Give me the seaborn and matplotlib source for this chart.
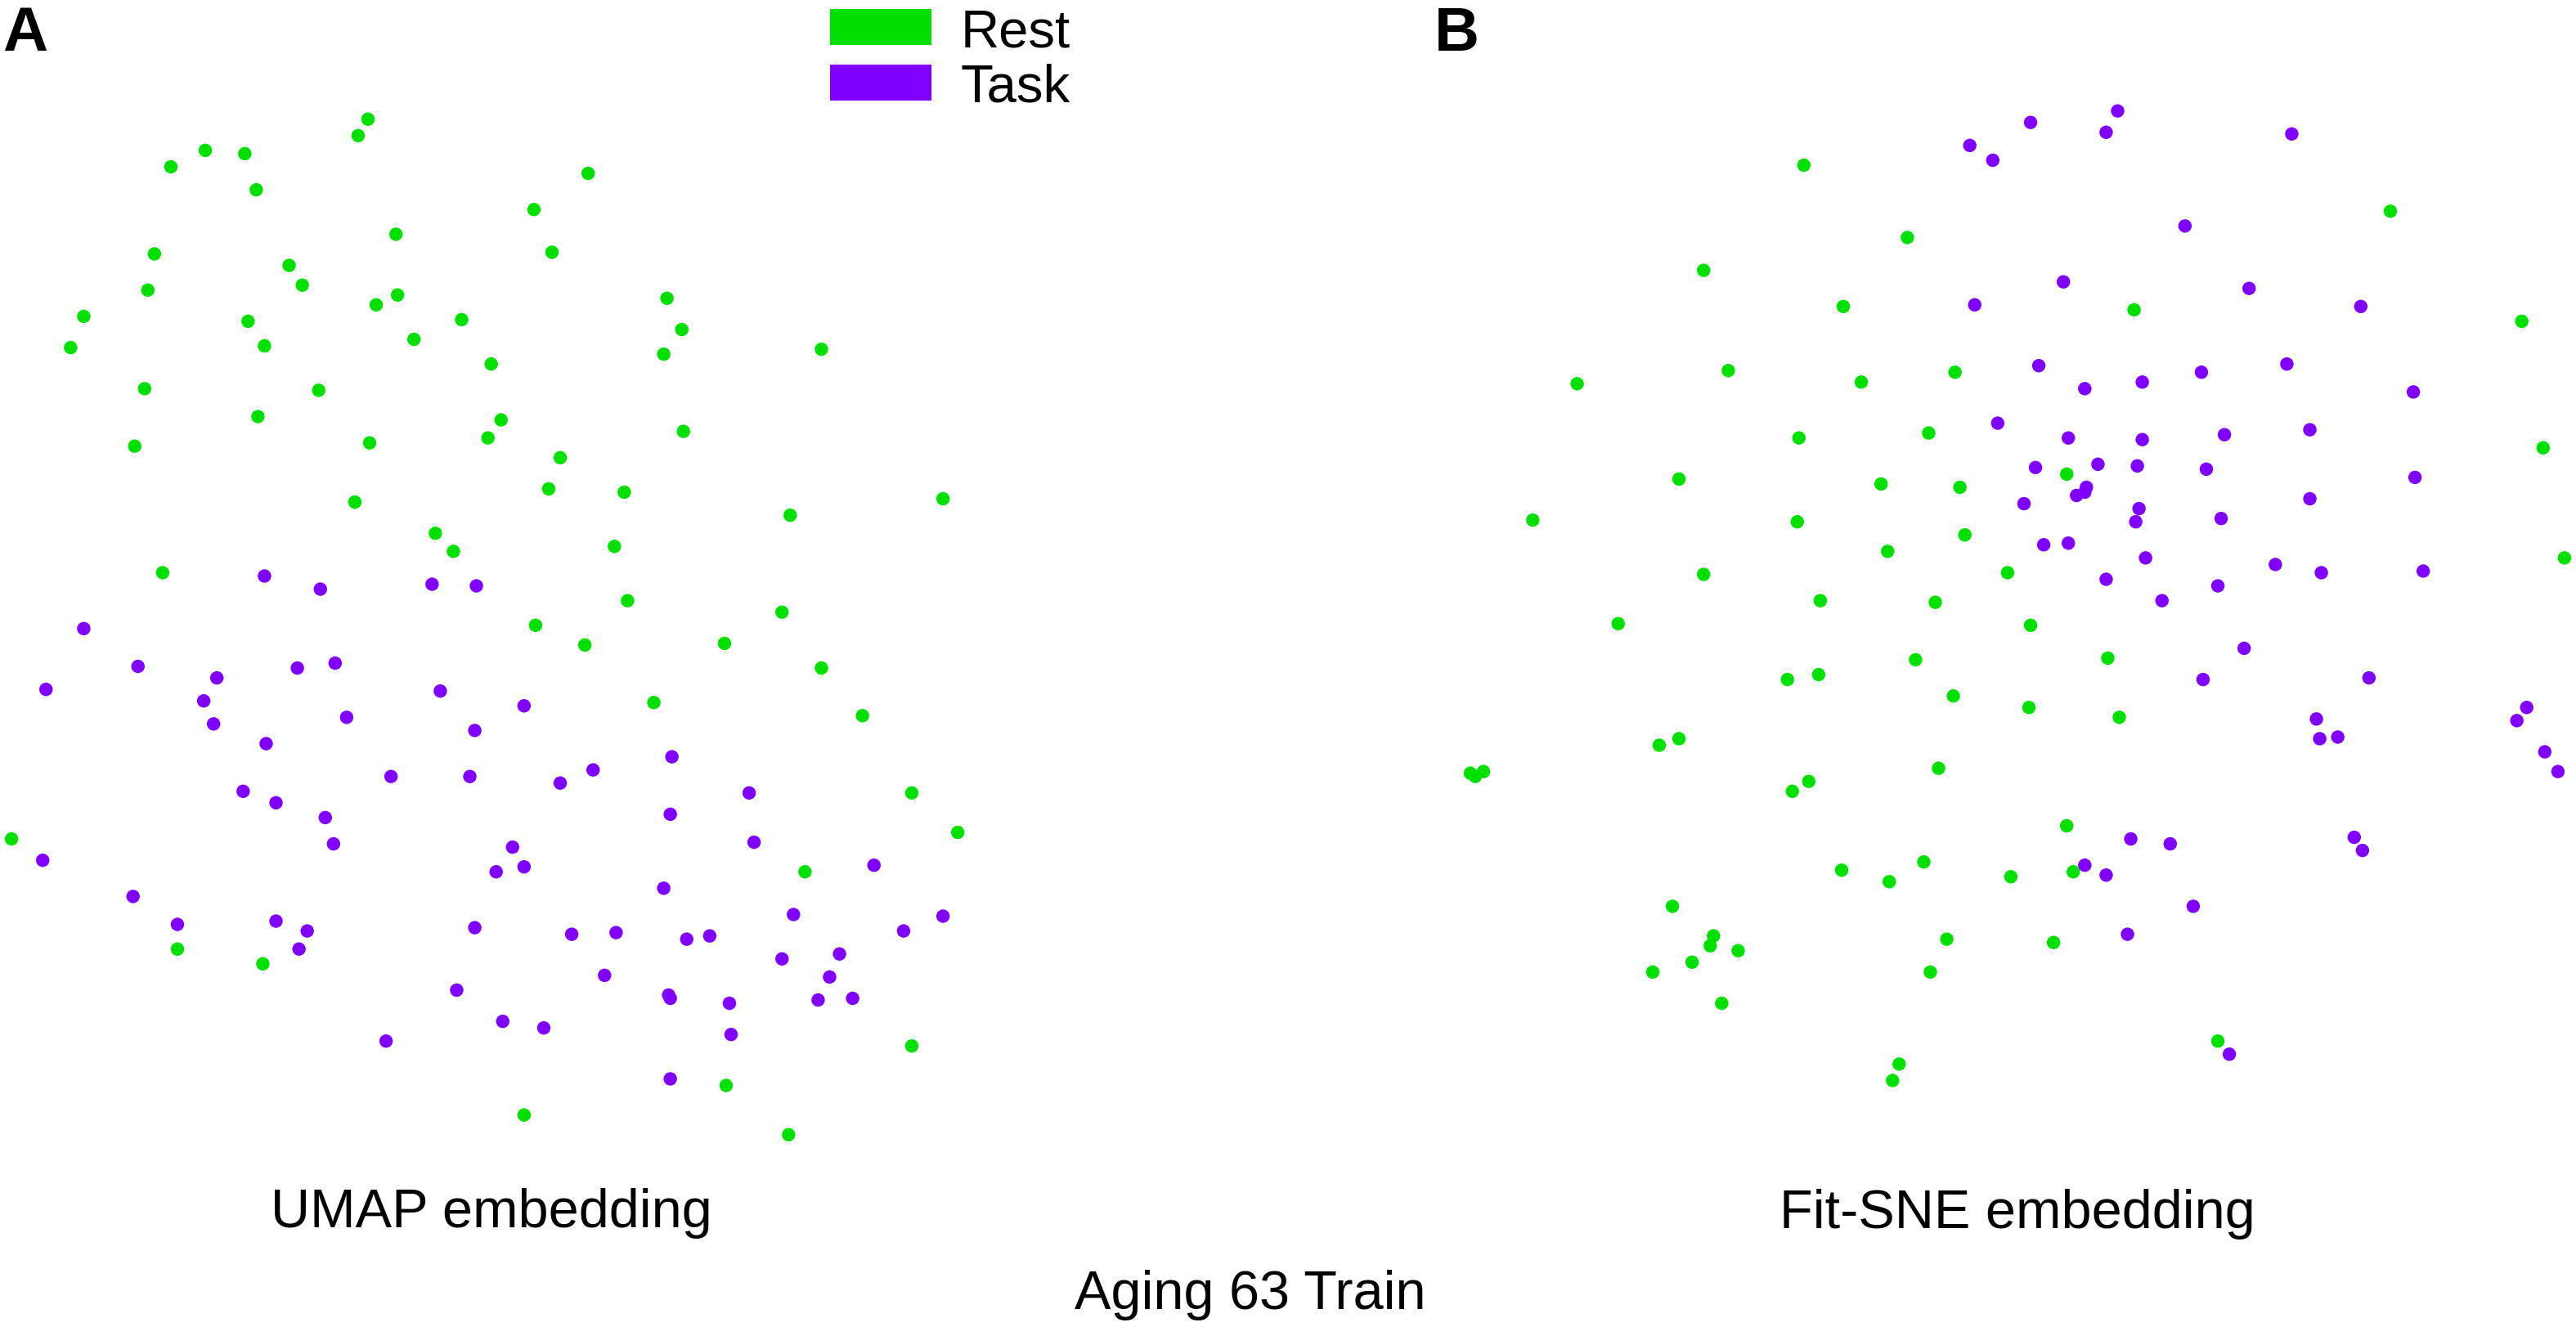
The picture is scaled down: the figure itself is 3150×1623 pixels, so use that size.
import numpy as np
import pandas as pd
import matplotlib
matplotlib.use("Agg")
import matplotlib.pyplot as plt
from matplotlib.patches import Patch
import seaborn as sns

# -------------------------------------------------------------
#  Datos (coordenadas del embedding)
#  Eje y hacia abajo, igual que en la imagen original
# -------------------------------------------------------------

STATES = ["Rest", "Task"]
COLORS = {"Rest": "#00E000", "Task": "#8000FF"}

umap_rest_x = [224, 218, 125, 149, 104, 156, 358, 325, 241, 336, 94, 176, 184, 90,
               406, 51, 229, 242, 281, 151, 415, 43, 161, 252, 404, 500, 299, 88,
               194, 305, 157, 297, 416, 82, 225, 341, 334, 380, 216, 574, 481, 265,
               276, 374, 99, 382, 326, 476, 441, 356, 500, 398, 525, 555, 7, 583,
               490, 108, 160, 555, 442, 319, 480]
umap_rest_y = [73, 83, 92, 94, 102, 116, 106, 128, 143, 154, 155, 162, 174, 177,
               182, 193, 186, 180, 195, 196, 201, 212, 211, 207, 216, 213, 222, 237,
               238, 256, 254, 267, 263, 272, 270, 279, 298, 300, 306, 304, 314, 325,
               336, 333, 349, 366, 381, 373, 392, 393, 407, 428, 436, 483, 511, 507,
               531, 578, 587, 637, 661, 679, 691]

umap_task_x = [161, 195, 51, 263, 290, 84, 28, 181, 204, 132, 124, 130, 268, 211,
               319, 289, 162, 361, 238, 286, 341, 148, 168, 409, 456, 408, 198, 203,
               312, 319, 302, 459, 26, 81, 404, 532, 483, 108, 168, 187, 182, 289,
               348, 375, 418, 432, 574, 550, 476, 511, 368, 505, 278, 407, 408, 444,
               498, 519, 306, 331, 445, 235, 408]
umap_task_y = [351, 359, 383, 356, 357, 406, 420, 407, 404, 413, 427, 441, 421, 437,
               430, 445, 453, 469, 473, 473, 477, 482, 489, 461, 483, 496, 498, 514,
               516, 528, 531, 513, 524, 546, 541, 527, 557, 563, 561, 567, 578, 565,
               569, 568, 572, 570, 558, 567, 584, 581, 594, 595, 603, 606, 608, 611,
               609, 608, 622, 626, 630, 634, 657]

fitsne_rest_x = [1098, 1161, 1037, 1122, 1455, 1299, 1535, 960, 1052, 1133, 1190, 1095,
                 1174, 1022, 1145, 1193, 1258, 933, 1094, 1196, 1149, 1037, 1222, 1561,
                 985, 1108, 1178, 1236, 1166, 1283, 1088, 1107, 1189, 1235, 1290, 1010,
                 1022, 895, 898, 903, 1180, 1091, 1101, 1258, 1121, 1150, 1171, 1224,
                 1262, 1018, 1043, 1041, 1058, 1030, 1006, 1048, 1185, 1250, 1175, 1350,
                 1156, 1152, 1548]
fitsne_rest_y = [101, 145, 165, 187, 129, 189, 196, 234, 226, 233, 227, 267,
                 264, 292, 295, 297, 289, 317, 318, 326, 336, 350, 349, 340,
                 380, 366, 367, 381, 402, 401, 414, 411, 424, 431, 437, 454,
                 450, 471, 473, 470, 468, 482, 476, 503, 530, 537, 525, 534,
                 531, 552, 570, 576, 579, 586, 592, 611, 572, 574, 592, 634,
                 648, 658, 273]

fitsne_task_x = [1289, 1236, 1282, 1395, 1199, 1213, 1330, 1256, 1369, 1202, 1437, 1241,
                 1340, 1392, 1269, 1304, 1469, 1216, 1259, 1304, 1354, 1406, 1239, 1277,
                 1301, 1343, 1470, 1264, 1270, 1269, 1232, 1302, 1300, 1352, 1406, 1244,
                 1259, 1306, 1385, 1413, 1475, 1282, 1350, 1316, 1366, 1341, 1442, 1410,
                 1412, 1423, 1538, 1532, 1549, 1557, 1297, 1321, 1269, 1282, 1433, 1438,
                 1335, 1295, 1357]
fitsne_task_y = [68, 75, 81, 82, 89, 98, 138, 172, 176, 186, 187, 223,
                 227, 222, 237, 233, 239, 258, 267, 268, 265, 262, 285, 283,
                 284, 286, 291, 302, 297, 300, 307, 310, 318, 316, 304, 332,
                 331, 340, 344, 349, 348, 353, 357, 366, 395, 414, 413, 438,
                 450, 449, 431, 439, 458, 470, 511, 514, 527, 533, 510, 518,
                 552, 569, 642]

PANEL_TITLES = ["UMAP embedding", "Fit-SNE embedding"]
SUPTITLE     = "Aging 63 Train"
PANEL_TAGS   = ["A", "B"]


def build_frame(rest_x, rest_y, task_x, task_y):
    return pd.DataFrame({
        "x"     : list(rest_x) + list(task_x),
        "y"     : list(rest_y) + list(task_y),
        "state" : ["Rest"] * len(rest_x) + ["Task"] * len(task_x),
    })


df_umap   = build_frame(umap_rest_x, umap_rest_y, umap_task_x, umap_task_y)
df_fitsne = build_frame(fitsne_rest_x, fitsne_rest_y, fitsne_task_x, fitsne_task_y)

# -------------------------------------------------------------
#  Figura
# -------------------------------------------------------------

sns.set_theme(style="white")
plt.rcParams["font.family"] = ["Liberation Sans", "DejaVu Sans"]
plt.rcParams["text.color"]  = "black"

W, H   = 1568, 808    # marco de la imagen reducida
FW, FH = 3150, 1624   # pixeles de la figura final
fig = plt.figure(figsize=(31.5, 16.24), dpi=100)

ax_a = fig.add_axes([0 / W, 1 - 730 / H, 600 / W, 690 / H])
ax_b = fig.add_axes([880 / W, 1 - 730 / H, 688 / W, 690 / H])

for ax, df, xlim in [(ax_a, df_umap, (0, 600)), (ax_b, df_fitsne, (880, 1568))]:
    sns.scatterplot(
        data=df, x="x", y="y", hue="state",
        hue_order=STATES, palette=COLORS,
        s=140, linewidth=0, legend=False, ax=ax, clip_on=False,
    )
    ax.set_xlim(*xlim)
    ax.set_ylim(730, 40)
    ax.set_axis_off()

fig.text(299 / W, 1 - 1501 / FH, PANEL_TITLES[0], ha="center", va="baseline", fontsize=48)
fig.text(2467 / FW, 1 - 1502 / FH, PANEL_TITLES[1], ha="center", va="baseline", fontsize=48)
fig.text(1529 / FW, 1 - 1601 / FH, SUPTITLE, ha="center", va="baseline", fontsize=48)

fig.text(3 / FW, 1 - 62 / FH, PANEL_TAGS[0], ha="left", va="baseline",
         fontsize=55, fontweight="bold")
fig.text(1754 / FW, 1 - 62 / FH, PANEL_TAGS[1], ha="left", va="baseline",
         fontsize=55, fontweight="bold")

handles = [Patch(facecolor=COLORS[s], edgecolor="none", label=s) for s in STATES]
fig.legend(
    handles=handles, loc="upper left",
    bbox_to_anchor=(1015 / FW, 1 - 10 / FH),
    frameon=False, fontsize=47,
    handlelength=1.9, handleheight=0.66, handletextpad=0.55,
    labelspacing=0.12, borderpad=0, borderaxespad=0,
)

fig.savefig("out.png", dpi=100)
plt.close(fig)
